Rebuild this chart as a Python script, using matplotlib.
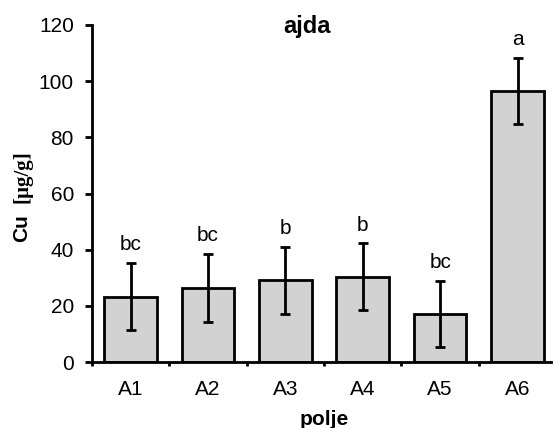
import matplotlib
matplotlib.use("Agg")
import matplotlib.pyplot as plt
from matplotlib.ticker import FixedLocator

categories = ["A1", "A2", "A3", "A4", "A5", "A6"]
means = [23.3, 26.2, 29.1, 30.3, 17.1, 96.4]
errors = [12.0, 12.1, 12.0, 11.9, 11.9, 11.8]
letters = ["bc", "bc", "b", "b", "bc", "a"]
yticks = [0, 20, 40, 60, 80, 100, 120]

W, H = 553, 428
fig = plt.figure(figsize=(W / 100, H / 100), dpi=100)
fig.patch.set_facecolor("white")
ax = fig.add_axes([92 / W, 1 - 362 / H, (556.2 - 92) / W, (362 - 25) / H])

sans = ["Liberation Sans", "DejaVu Sans"]
fs = 15
lw = 2.0
x = list(range(len(categories)))
ax.bar(x, means, width=0.68, color="#d2d2d2", edgecolor="black", linewidth=lw, zorder=2)
ax.errorbar(x, means, yerr=errors, fmt="none", ecolor="black", elinewidth=lw,
            capsize=3.5, capthick=lw, zorder=3)
for xi, m, e, lab in zip(x, means, errors, letters):
    ax.text(xi, m + e + 3.2, lab, ha="center", va="bottom", fontsize=fs, family=sans)

ax.set_xlim(-0.5, len(categories) - 0.5)
ax.set_ylim(0, 120)
ax.set_yticks(yticks)
ax.set_yticklabels([str(v) for v in yticks], family=sans, fontsize=fs)
ax.set_xticks(x)
ax.set_xticklabels(categories, family=sans, fontsize=fs)
ax.xaxis.set_minor_locator(FixedLocator([i - 0.5 for i in range(len(categories) + 1)]))
ax.tick_params(axis="x", which="major", length=0, pad=13)
ax.tick_params(axis="x", which="minor", length=3, width=lw, direction="out")
ax.tick_params(axis="y", which="major", length=5, width=lw, direction="out", pad=8)

for s in ["top", "right"]:
    ax.spines[s].set_visible(False)
for s in ["left", "bottom"]:
    ax.spines[s].set_linewidth(lw)

ax.set_xlabel("polje", fontsize=fs, fontweight="bold", family=sans, labelpad=8)
fig.text(22 / W, 1 - 228 / H, "Cu", rotation=90, ha="center", va="center",
         fontsize=fs, fontweight="bold", family=sans)
fig.text(22 / W, 1 - 177 / H, "[\u00b5g/g]", rotation=90, ha="center", va="center",
         fontsize=fs, fontweight="bold", family=["Liberation Serif", "DejaVu Serif"])
fig.text(307 / W, 1 - 27 / H, "ajda", ha="center", va="center",
         fontsize=17, fontweight="bold", family=sans)

fig.savefig("out.png", dpi=100)
